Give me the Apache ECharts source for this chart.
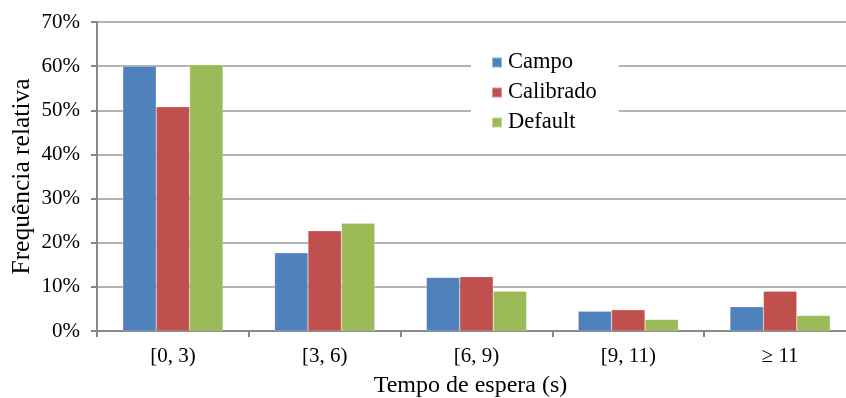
<!DOCTYPE html>
<html>
<head>
<meta charset="utf-8">
<script src="https://cdn.jsdelivr.net/npm/echarts@6/dist/echarts.min.js"></script>
<style>
  html, body { margin: 0; padding: 0; background: #fff; }
  #chart { width: 846px; height: 398px; }
</style>
</head>
<body>
<div id="chart"></div>
<script>
// categorias do tempo de espera
const categories = ['[0, 3)', '[3, 6)', '[6, 9)', '[9, 11)', '≥ 11']
// frequência relativa (%)
const campo = [60.0, 17.7, 12.1, 4.5, 5.5]
const calibrado = [50.8, 22.7, 12.3, 4.8, 9.0]
const defaultData = [60.3, 24.4, 9.0, 2.6, 3.5]

const fontFamily = '"Liberation Serif", "Times New Roman", serif'

const chart = echarts.init(document.getElementById('chart'))

const makeSeries = (name, data, color) => ({
  name: name,
  type: 'bar',
  data: data,
  barGap: '0%',
  barCategoryGap: '34%',
  itemStyle: { color: color, borderColor: 'rgba(255,255,255,0.4)', borderWidth: 0.5 }
})

chart.setOption({
  animation: false,
  textStyle: { fontFamily: fontFamily },
  // o gráfico original continua além da borda direita
  grid: { left: 97, top: 22, width: 759, height: 309, outerBoundsMode: 'none', containLabel: false },
  legend: {
    orient: 'vertical',
    left: 471,
    top: 45,
    padding: [6, 22, 8, 20],
    backgroundColor: '#ffffff',
    itemWidth: 10,
    itemHeight: 10,
    itemGap: 7,
    icon: 'rect',
    textStyle: { fontFamily: fontFamily, fontSize: 22.5, lineHeight: 22, color: '#000', padding: [0, 0, 0, 1] },
    data: ['Campo', 'Calibrado', 'Default']
  },
  xAxis: {
    type: 'category',
    data: categories,
    name: 'Tempo de espera (s)',
    nameLocation: 'middle',
    nameGap: 43,
    nameMoveOverlap: false,
    nameTextStyle: { fontFamily: fontFamily, fontSize: 24, color: '#000', padding: [0, 12, 0, 0] },
    axisLine: { lineStyle: { color: '#888', width: 2 } },
    axisTick: { show: true, length: 6, lineStyle: { color: '#888', width: 2 } },
    axisLabel: { fontFamily: fontFamily, fontSize: 21, color: '#000', margin: 15 }
  },
  yAxis: {
    type: 'value',
    min: 0,
    max: 70,
    interval: 10,
    name: 'Frequência relativa',
    nameLocation: 'middle',
    nameGap: 62,
    nameMoveOverlap: false,
    nameTextStyle: { fontFamily: fontFamily, fontSize: 25.5, color: '#000' },
    axisLine: { show: true, lineStyle: { color: '#888', width: 2 } },
    axisTick: { show: true, length: 6, lineStyle: { color: '#888', width: 2 } },
    axisLabel: {
      fontFamily: fontFamily,
      fontSize: 21,
      color: '#000',
      margin: 17,
      formatter: v => v + '%'
    },
    splitLine: { lineStyle: { color: '#b4b4b4', width: 2 } }
  },
  series: [
    makeSeries('Campo', campo, '#4F81BD'),
    makeSeries('Calibrado', calibrado, '#C0504D'),
    makeSeries('Default', defaultData, '#9BBB59')
  ]
})
</script>
</body>
</html>
